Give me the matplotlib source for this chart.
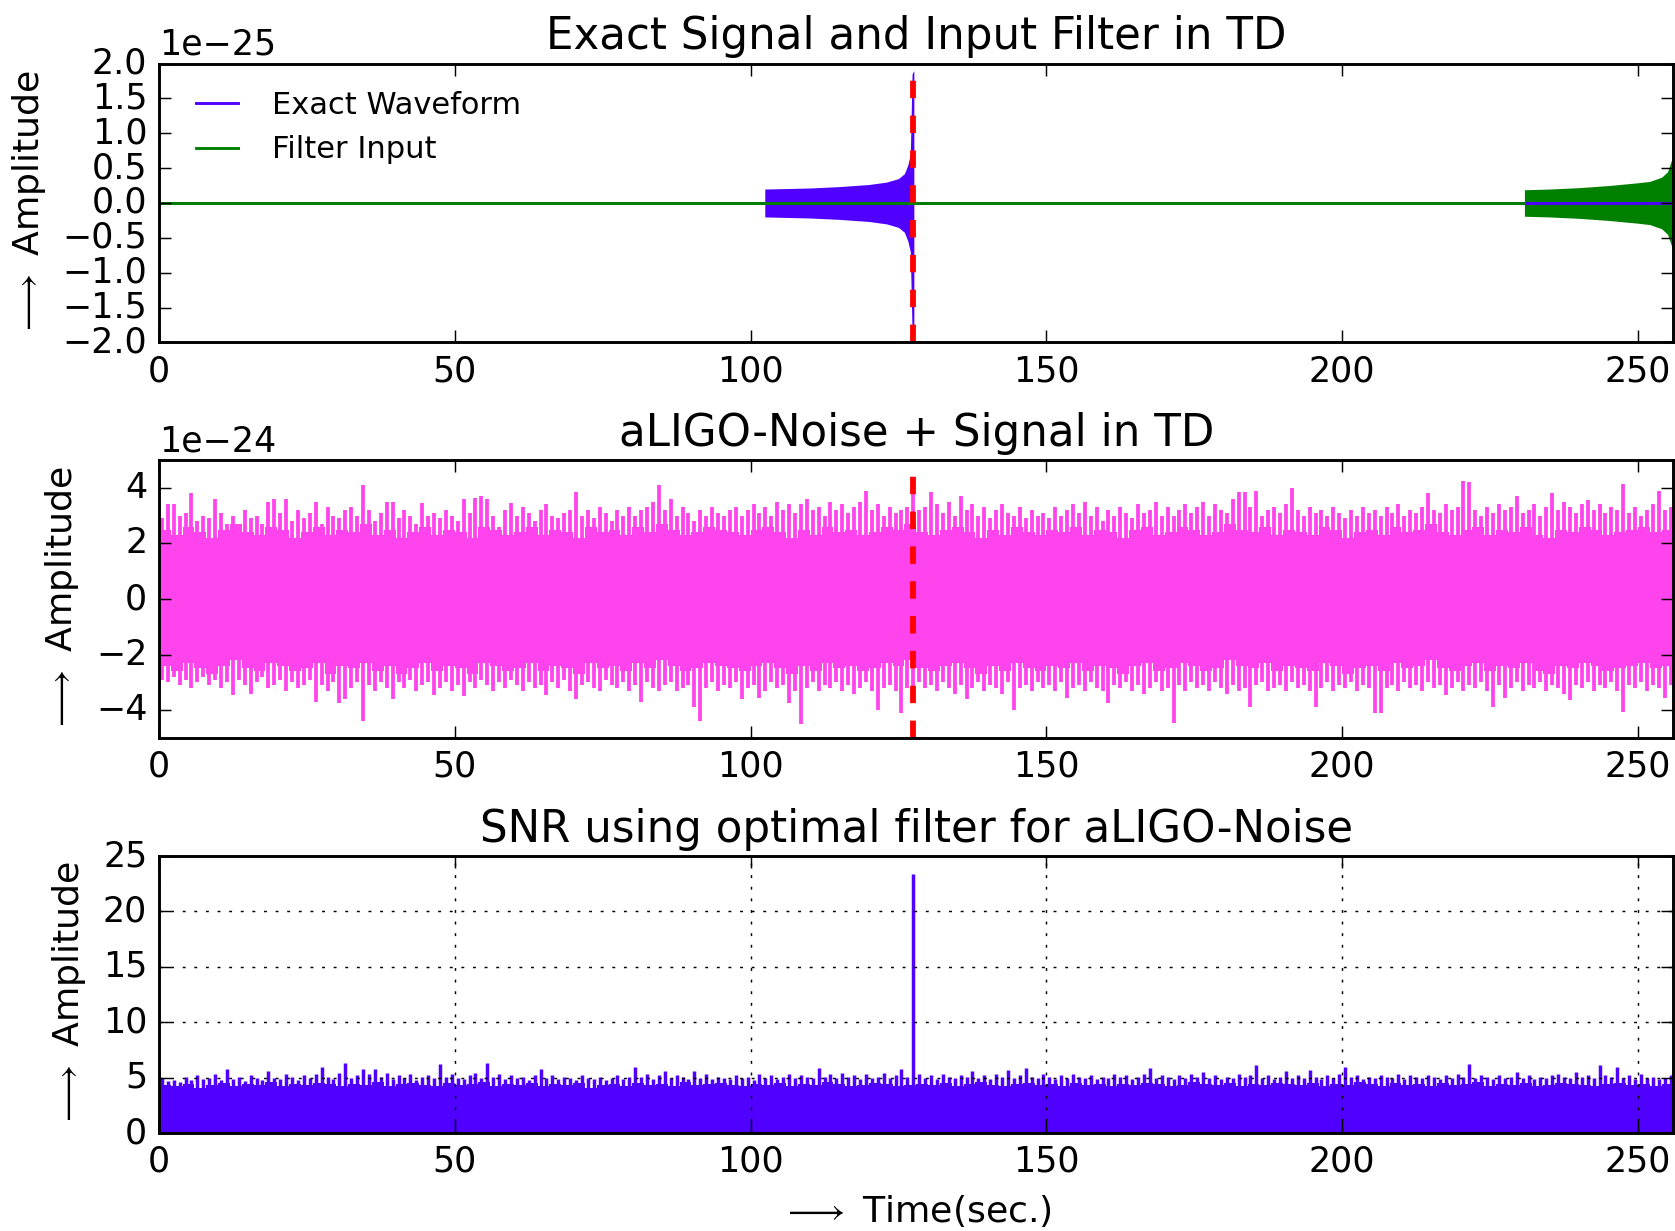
import numpy as np
import matplotlib
matplotlib.use("Agg")
import matplotlib.pyplot as plt

# ---------------- data ----------------
t_span = [0, 256]            # time axis range (sec.)
t_merge = 127.5              # coalescence time, red dashed marker
x_ticks = [0, 50, 100, 150, 200, 250]

# envelope of the exact chirp waveform, units of 1e-25
exact_t = [102.4, 105, 110, 115, 120, 123, 125, 126, 126.6, 127.0, 127.3, 127.6]
exact_env = [0.20, 0.205, 0.215, 0.235, 0.265, 0.30, 0.35, 0.42, 0.55, 0.70, 1.85, 1.9]

# envelope of the filter input (same chirp, placed at the end), units of 1e-25
filter_t = [230.8, 235, 240, 245, 250, 252, 254, 255, 255.6, 256]
filter_env = [0.19, 0.20, 0.22, 0.25, 0.29, 0.31, 0.37, 0.45, 0.60, 0.68]

# aLIGO noise + signal, units of 1e-24
# solid part of the band, one value per 2 s
noise_body_up = [
    2.5, 2.3, 2.6, 2.4, 2.2, 2.5, 2.7, 2.4, 2.3, 2.6, 2.5, 2.2, 2.4, 2.6, 2.3, 2.5,
    2.4, 2.7, 2.3, 2.5, 2.2, 2.4, 2.6, 2.3, 2.5, 2.4, 2.2, 2.6, 2.5, 2.3, 2.4, 2.6,
    2.3, 2.5, 2.4, 2.2, 2.6, 2.4, 2.5, 2.3, 2.6, 2.4, 2.7, 2.5, 2.3, 2.4, 2.6, 2.5,
    2.4, 2.3, 2.5, 2.6, 2.4, 2.2, 2.5, 2.3, 2.6, 2.4, 2.5, 2.3, 2.4, 2.6, 2.5, 2.7,
    2.4, 2.3, 2.5, 2.6, 2.4, 2.2, 2.5, 2.3, 2.6, 2.4, 2.3, 2.5, 2.4, 2.6, 2.3, 2.5,
    2.4, 2.2, 2.5, 2.6, 2.3, 2.4, 2.6, 2.5, 2.3, 2.4, 2.7, 2.5, 2.4, 2.6, 2.3, 2.5,
    2.4, 2.3, 2.6, 2.5, 2.2, 2.4, 2.5, 2.3, 2.6, 2.4, 2.5, 2.7, 2.4, 2.3, 2.5, 2.6,
    2.3, 2.5, 2.4, 2.6, 2.3, 2.2, 2.5, 2.4, 2.6, 2.5, 2.3, 2.4, 2.5, 2.6, 2.4, 2.5,
]
noise_body_lo = [
    -2.4, -2.6, -2.3, -2.5, -2.7, -2.4, -2.2, -2.5, -2.6, -2.3, -2.4, -2.6, -2.5, -2.3, -2.7, -2.4,
    -2.5, -2.3, -2.6, -2.4, -2.7, -2.5, -2.3, -2.6, -2.4, -2.5, -2.7, -2.3, -2.4, -2.6, -2.5, -2.3,
    -2.6, -2.4, -2.5, -2.7, -2.3, -2.5, -2.4, -2.6, -2.3, -2.5, -2.2, -2.4, -2.6, -2.5, -2.3, -2.4,
    -2.5, -2.6, -2.4, -2.3, -2.5, -2.7, -2.4, -2.6, -2.3, -2.5, -2.4, -2.6, -2.5, -2.3, -2.4, -2.2,
    -2.5, -2.6, -2.4, -2.3, -2.5, -2.7, -2.4, -2.6, -2.3, -2.5, -2.6, -2.4, -2.5, -2.3, -2.6, -2.4,
    -2.5, -2.7, -2.4, -2.3, -2.6, -2.5, -2.3, -2.4, -2.6, -2.5, -2.2, -2.4, -2.5, -2.3, -2.6, -2.4,
    -2.5, -2.6, -2.3, -2.4, -2.7, -2.5, -2.4, -2.6, -2.3, -2.5, -2.4, -2.2, -2.5, -2.6, -2.4, -2.3,
    -2.6, -2.4, -2.5, -2.3, -2.6, -2.7, -2.4, -2.5, -2.3, -2.4, -2.6, -2.5, -2.4, -2.3, -2.5, -2.4,
]
# spikes: per-second max / min
noise_up = [
    2.9, 3.4, 3.4, 3.0, 3.1, 3.8, 2.8, 3.0, 2.9, 3.6, 3.1, 2.7, 3.0, 2.6, 3.2, 2.9,
    3.0, 2.7, 3.5, 3.6, 3.1, 3.6, 2.8, 3.2, 2.9, 3.1, 3.5, 2.7, 3.3, 3.0, 2.9, 3.2,
    3.3, 3.0, 4.1, 3.2, 2.8, 3.1, 3.5, 3.5, 2.9, 3.2, 3.0, 2.7, 3.45, 3.0, 3.1, 2.9,
    3.2, 3.0, 2.8, 3.6, 3.1, 3.65, 3.7, 3.6, 3.0, 2.6, 3.2, 3.45, 3.0, 3.3, 3.1, 2.8,
    3.2, 3.4, 3.0, 2.9, 3.1, 3.2, 3.85, 3.0, 3.2, 2.9, 3.3, 3.1, 2.8, 3.2, 3.0, 3.3,
    3.0, 3.2, 3.3, 3.5, 4.1, 3.2, 3.6, 3.0, 3.3, 3.1, 2.8, 3.2, 3.0, 3.3, 3.1, 3.0,
    3.2, 3.3, 3.0, 3.2, 3.4, 3.1, 3.3, 3.0, 3.5, 3.2, 3.4, 3.1, 3.4, 3.6, 3.2, 3.3,
    3.0, 3.5, 3.2, 3.4, 3.1, 3.3, 3.5, 3.9, 3.2, 3.4, 3.0, 3.3, 3.1, 3.2, 3.3, 3.8,
    3.2, 3.3, 3.85, 3.4, 3.1, 3.5, 3.0, 3.7, 3.2, 3.4, 3.0, 3.3, 2.9, 3.2, 3.4, 3.1,
    3.0, 3.3, 2.9, 3.2, 3.0, 3.1, 2.9, 3.3, 3.0, 3.2, 3.4, 3.1, 3.5, 3.0, 3.3, 2.8,
    3.2, 3.0, 3.3, 3.1, 2.9, 3.4, 3.1, 3.2, 3.5, 3.0, 3.3, 3.0, 3.2, 3.4, 3.1, 3.3,
    3.5, 3.0, 3.4, 3.2, 3.1, 3.6, 3.85, 3.85, 3.3, 3.9, 3.0, 3.2, 3.3, 3.1, 3.4, 4.0,
    3.2, 3.0, 3.3, 3.1, 3.2, 3.0, 3.3, 3.1, 2.9, 3.2, 3.0, 3.3, 3.1, 3.2, 3.0, 3.3,
    3.1, 3.4, 3.0, 3.2, 3.1, 3.3, 3.8, 3.2, 3.1, 3.4, 3.2, 3.3, 4.25, 4.2, 3.2, 3.0,
    3.3, 3.1, 3.4, 3.2, 3.3, 3.7, 3.1, 3.2, 3.4, 3.0, 3.3, 3.8, 3.2, 3.5, 3.3, 3.1,
    3.4, 3.55, 3.2, 3.4, 3.1, 3.3, 3.2, 4.15, 3.1, 3.3, 3.0, 3.2, 3.4, 3.9, 3.2, 3.3,
]
noise_lo = [
    -2.9, -3.0, -2.8, -3.1, -2.9, -3.2, -3.0, -2.8, -3.1, -2.9, -3.2, -3.0, -3.45, -2.9, -3.1, -3.4,
    -3.0, -2.8, -3.2, -3.1, -2.9, -3.3, -3.0, -3.2, -3.1, -2.9, -3.7, -3.1, -3.3, -3.0, -3.75, -3.6,
    -3.2, -3.0, -4.4, -3.1, -3.3, -3.0, -3.2, -3.6, -3.0, -3.2, -2.9, -3.3, -3.1, -3.0, -3.45, -3.2,
    -3.0, -3.3, -3.1, -3.5, -3.0, -3.2, -2.9, -3.1, -3.3, -3.0, -3.2, -2.9, -3.1, -3.3, -3.0, -3.2,
    -3.1, -3.45, -3.0, -3.2, -2.9, -3.3, -3.6, -3.1, -3.0, -3.2, -3.3, -2.9, -3.1, -3.2, -3.0, -3.3,
    -3.1, -3.7, -3.0, -3.2, -3.3, -3.1, -3.0, -3.3, -3.2, -3.1, -3.9, -4.4, -3.2, -3.0, -3.3, -3.1,
    -3.2, -3.0, -3.6, -3.2, -3.1, -3.57, -3.3, -3.0, -3.2, -3.1, -3.75, -3.3, -4.5, -3.2, -3.0, -3.3,
    -3.1, -3.2, -3.0, -3.3, -3.1, -3.4, -3.2, -3.0, -3.3, -4.0, -3.2, -3.1, -3.3, -4.1, -3.2, -3.3,
    -3.0, -3.2, -3.1, -3.3, -3.0, -3.2, -3.4, -3.1, -3.6, -3.2, -3.0, -3.3, -3.1, -3.2, -3.4, -3.0,
    -4.0, -3.2, -3.1, -3.3, -3.0, -3.2, -3.1, -3.3, -3.0, -3.57, -3.2, -3.1, -3.3, -3.0, -3.2, -3.3,
    -3.75, -3.1, -3.2, -3.0, -3.3, -3.1, -3.4, -3.2, -3.0, -3.3, -3.2, -4.47, -3.1, -3.3, -3.0, -3.2,
    -3.1, -3.3, -3.0, -3.2, -3.4, -3.1, -3.3, -3.2, -3.87, -3.1, -3.0, -3.3, -3.2, -3.1, -3.3, -3.0,
    -3.2, -3.1, -3.3, -3.87, -3.2, -3.0, -3.3, -3.1, -3.2, -3.0, -3.3, -3.1, -3.2, -4.1, -4.1, -3.2,
    -3.1, -3.3, -3.0, -3.2, -3.1, -3.3, -3.0, -3.2, -3.1, -3.45, -3.2, -3.0, -3.3, -3.1, -3.2, -3.0,
    -3.3, -3.9, -3.1, -3.57, -3.2, -3.0, -3.3, -3.1, -3.2, -3.0, -3.3, -3.1, -3.2, -3.4, -3.63, -3.1,
    -3.2, -3.0, -3.3, -3.1, -3.2, -3.0, -3.3, -4.05, -3.1, -3.2, -3.0, -3.3, -3.1, -3.2, -3.57, -3.1,
]

# SNR: solid part (per 2 s) and per-second max
snr_body = [
    4.3, 4.2, 4.4, 4.1, 4.3, 4.5, 4.2, 4.4, 4.3, 4.6, 4.2, 4.4, 4.3, 4.5, 4.4, 4.2,
    4.4, 4.3, 4.6, 4.2, 4.4, 4.5, 4.3, 4.2, 4.5, 4.3, 4.4, 4.6, 4.2, 4.4, 4.3, 4.5,
    4.2, 4.4, 4.3, 4.5, 4.1, 4.3, 4.4, 4.2, 4.5, 4.3, 4.4, 4.2, 4.6, 4.3, 4.4, 4.5,
    4.3, 4.2, 4.4, 4.3, 4.5, 4.2, 4.4, 4.3, 4.6, 4.4, 4.2, 4.3, 4.5, 4.4, 4.2, 4.3,
    4.4, 4.3, 4.5, 4.2, 4.4, 4.6, 4.3, 4.2, 4.4, 4.5, 4.3, 4.4, 4.2, 4.5, 4.3, 4.4,
    4.2, 4.4, 4.3, 4.5, 4.4, 4.2, 4.3, 4.6, 4.4, 4.3, 4.5, 4.2, 4.4, 4.3, 4.5, 4.4,
    4.3, 4.5, 4.2, 4.4, 4.3, 4.6, 4.4, 4.2, 4.5, 4.3, 4.4, 4.2, 4.5, 4.3, 4.4, 4.6,
    4.2, 4.4, 4.3, 4.5, 4.2, 4.3, 4.5, 4.4, 4.3, 4.2, 4.4, 4.5, 4.3, 4.4, 4.2, 4.4,
]
snr_up = [
    5.0, 4.7, 4.8, 4.6, 5.1, 4.8, 5.2, 4.9, 5.0, 5.3, 4.8, 5.8, 4.9, 5.1, 4.7, 5.2,
    5.0, 4.8, 5.6, 5.0, 4.9, 5.3, 5.1, 4.8, 5.2, 5.0, 5.3, 6.0, 5.1, 4.9, 5.4, 6.3,
    5.0, 5.2, 5.8, 5.3, 5.8, 5.1, 5.4, 4.9, 5.2, 5.0, 5.3, 4.8, 5.1, 5.2, 5.0, 6.2,
    5.1, 5.3, 5.0, 4.9, 5.2, 5.4, 5.0, 6.3, 5.1, 5.3, 4.9, 5.2, 5.0, 5.1, 4.8, 5.2,
    5.75, 5.0, 5.2, 4.9, 5.1, 5.0, 4.8, 5.2, 5.0, 4.9, 5.1, 4.8, 5.0, 5.2, 4.9, 5.1,
    6.0, 5.1, 5.3, 4.9, 5.2, 5.6, 5.0, 5.2, 5.1, 4.9, 5.6, 5.0, 5.3, 4.9, 5.1, 5.0,
    4.9, 5.2, 5.0, 5.1, 4.8, 5.3, 5.0, 5.2, 4.9, 5.1, 5.3, 5.0, 5.2, 5.1, 5.0, 5.9,
    5.1, 5.3, 5.0, 5.4, 5.1, 5.2, 4.9, 5.3, 5.0, 5.1, 5.4, 5.0, 5.2, 5.75, 5.1, 23.4,
    5.3, 5.0, 5.2, 4.9, 5.3, 5.1, 5.0, 5.2, 5.1, 5.6, 5.0, 5.2, 4.9, 5.3, 5.1, 5.7,
    5.0, 5.2, 5.9, 5.1, 5.0, 5.3, 5.1, 4.9, 5.2, 5.0, 5.3, 5.1, 5.0, 5.2, 4.9, 5.1,
    5.0, 5.3, 5.1, 5.2, 4.9, 5.1, 5.3, 5.9, 5.0, 5.2, 5.1, 4.9, 5.2, 5.0, 5.3, 5.1,
    5.5, 5.0, 5.2, 4.9, 5.1, 5.0, 5.3, 5.1, 5.2, 6.1, 5.0, 5.2, 4.9, 5.1, 5.6, 5.0,
    5.2, 5.0, 5.7, 5.1, 4.9, 5.2, 5.0, 5.3, 6.0, 5.1, 5.2, 4.9, 5.1, 5.0, 5.2, 5.1,
    5.0, 5.3, 4.9, 5.2, 5.1, 5.0, 5.2, 5.1, 4.9, 5.2, 5.0, 5.3, 5.1, 6.2, 5.0, 5.2,
    5.1, 4.9, 5.2, 5.0, 5.1, 5.5, 5.0, 5.2, 4.9, 5.1, 5.0, 5.2, 5.3, 5.1, 5.0, 5.5,
    5.1, 5.2, 5.0, 6.1, 5.2, 5.1, 6.0, 5.0, 5.2, 4.9, 5.3, 5.0, 5.1, 4.9, 5.0, 5.2,
]

blue = '#5000ff'
green = 'g'
pink = '#ff44ee'

####################################################
plt.style.use('classic')
plt.rcParams['figure.facecolor'] = 'white'
plt.rcParams['savefig.facecolor'] = 'white'
plt.rcParams['font.size'] = 12

DPI = 209
fig = plt.figure(figsize=(1675 / DPI, 1231 / DPI), dpi=DPI)

left, width = 0.0949, 0.9042
ax1 = fig.add_axes([left, 0.7218, width, 0.2266])
ax2 = fig.add_axes([left, 0.4005, width, 0.2258])
ax3 = fig.add_axes([left, 0.0796, width, 0.2250])

ylab = r'$\longrightarrow$ Amplitude'
merge_style = dict(color='r', lw=2, ls=(0, (6, 6)))


def step_edges(body, dt):
    # bin edges for a step fill of a coarse envelope
    edges = np.arange(len(body) + 1) * dt
    return edges, np.append(body, body[-1])


# ---- panel 1: exact signal and filter input ----
e_t = np.array(exact_t)
e_a = np.array(exact_env) * 1e-25
f_t = np.array(filter_t)
f_a = np.array(filter_env) * 1e-25
ax1.fill_between(e_t, -e_a, e_a, color=blue, lw=0)
ax1.plot(t_span, [0, 0], color=blue, label='Exact Waveform')
ax1.plot([t_span[0], filter_t[0]], [0, 0], color=green, label='Filter Input')
ax1.fill_between(f_t, -f_a, f_a, color=green, lw=0)
ax1.axvline(t_merge, **merge_style)
ax1.set_ylim(-2e-25, 2e-25)
ax1.set_yticks(np.arange(-2.0, 2.01, 0.5) * 1e-25)
ax1.set_title('Exact Signal and Input Filter in TD', fontsize=15)
ax1.set_ylabel(ylab, fontsize=12.5)
ax1.legend(loc='upper left', frameon=False, fontsize=10.5,
           handlelength=2.0, handletextpad=0.8, borderaxespad=0.5)

# ---- panel 2: noise + signal ----
sec = np.arange(len(noise_up)) + 0.5
edges, b_up = step_edges(noise_body_up, 2)
_, b_lo = step_edges(noise_body_lo, 2)
ax2.fill_between(edges, b_lo * 1e-24, b_up * 1e-24, step='post', color=pink, lw=0)
ax2.vlines(sec, np.array(noise_lo) * 1e-24, np.array(noise_up) * 1e-24,
           colors=pink, lw=1.3)
ax2.axvline(t_merge, **merge_style)
ax2.set_ylim(-5e-24, 5e-24)
ax2.set_yticks(np.arange(-4, 4.1, 2) * 1e-24)
ax2.set_title('aLIGO-Noise + Signal in TD', fontsize=15)
ax2.set_ylabel(ylab, fontsize=12.5)

# ---- panel 3: SNR ----
snr_sec = np.arange(len(snr_up)) + 0.5
edges, s_body = step_edges(snr_body, 2)
ax3.fill_between(edges, 0, s_body, step='post', color=blue, lw=0)
ax3.vlines(snr_sec, 0, snr_up, colors=blue, lw=1.2)
ax3.set_ylim(0, 25)
ax3.set_yticks(range(0, 26, 5))
ax3.grid(True)
ax3.set_title('SNR using optimal filter for aLIGO-Noise', fontsize=15)
ax3.set_ylabel(ylab, fontsize=12.5)
ax3.set_xlabel(r'$\longrightarrow$ Time(sec.)', fontsize=12.5)

for ax in (ax1, ax2, ax3):
    ax.set_xlim(t_span)
    ax.set_xticks(x_ticks)
    ax.tick_params(labelsize=12)
    ax.yaxis.get_offset_text().set_fontsize(12)

fig.savefig('out.png', dpi=DPI)
